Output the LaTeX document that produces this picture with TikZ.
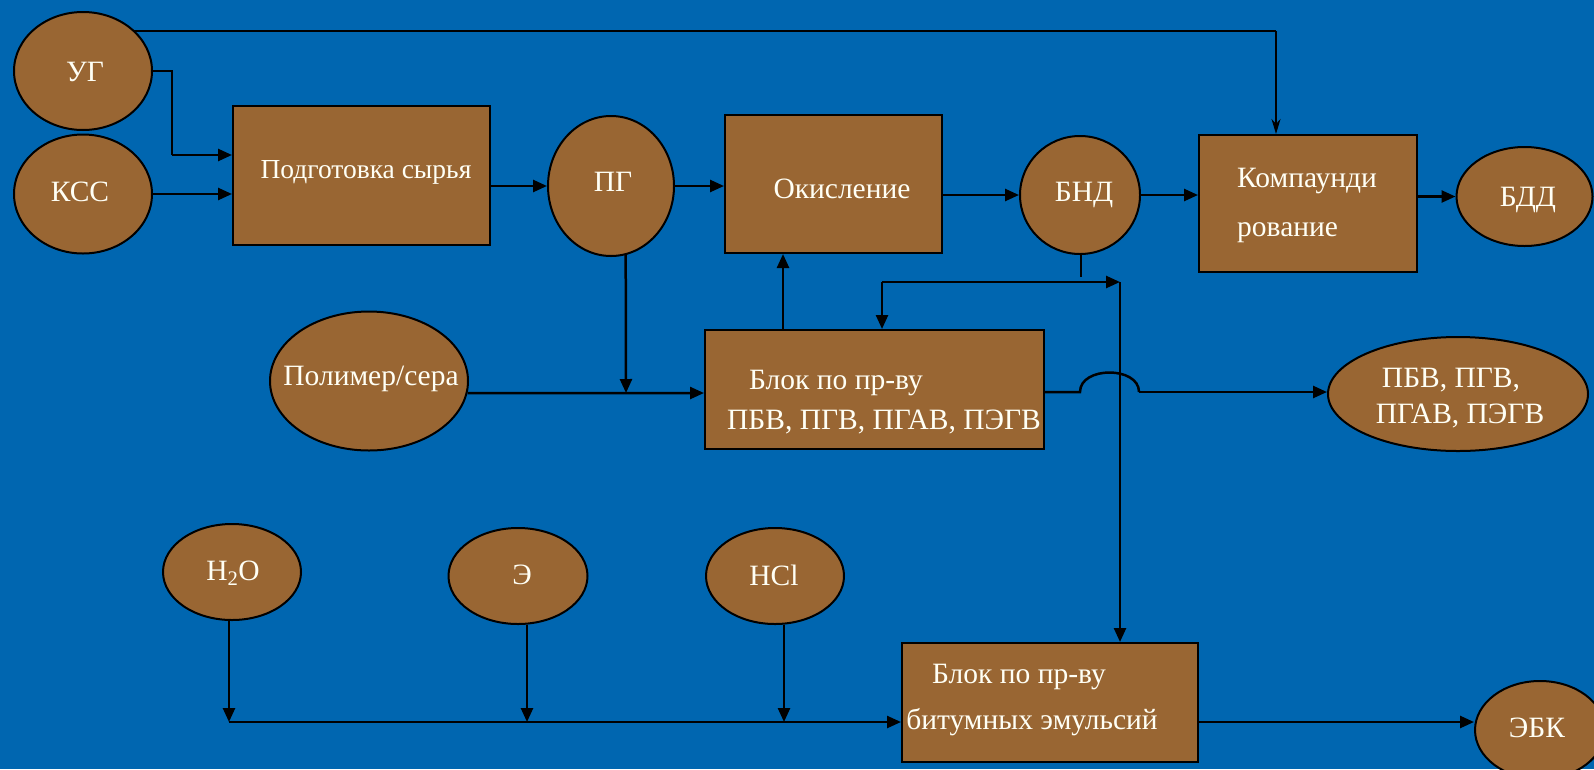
\documentclass[tikz,border=0pt]{standalone}
\usepackage{fontspec}
\setmainfont{Liberation Serif}
\usetikzlibrary{arrows.meta,shapes.geometric}
\definecolor{bg}{RGB}{0,102,176}
\definecolor{brn}{RGB}{153,102,51}
\definecolor{txc}{RGB}{255,255,245}
\begin{document}
\begin{tikzpicture}[x=1pt,y=-1pt,
  shp/.style={draw=black,line width=2pt,fill=brn},
  blk/.style={shp,rectangle,inner sep=0pt},
  ell/.style={shp,ellipse,inner sep=0pt},
  sz/.style 2 args={minimum width=#1,minimum height=#2},
  txt/.style={text=txc,font=\fontsize{29.5}{34}\selectfont,inner sep=0pt},
  con/.style={line width=2.5pt,-{Triangle[length=14pt,width=12pt]}},
  ln/.style={line width=2.5pt},
  thinln/.style={line width=1.6pt},
  thincon/.style={line width=1.6pt,-{Stealth[length=15pt,width=9pt]}}]
\fill[bg] (0,0) rectangle (1594,769);
\useasboundingbox (0,0) rectangle (1594,769);
\clip (0,0) rectangle (1594,769);

% shapes
\node[ell,sz={138pt}{118pt}] (ug) at (83,71) {};
\node[ell,sz={138pt}{119pt}] (kss) at (83,194) {};
\node[blk,sz={257pt}{139pt}] (prep) at (361.5,175.5) {};
\node[ell,sz={126pt}{140pt}] (pg) at (611,186) {};
\node[blk,sz={217pt}{138pt}] (oxid) at (833.5,184) {};
\node[ell,sz={120pt}{118pt}] (bnd) at (1080,195) {};
\node[blk,sz={218pt}{137pt}] (comp) at (1308,203.5) {};
\node[ell,sz={136pt}{99pt}] (bdd) at (1524.5,196.5) {};
\node[ell,sz={198pt}{139pt}] (poly) at (369,381) {};
\node[blk,sz={339pt}{119pt}] (pbv) at (874.5,389.5) {};
\node[ell,sz={260pt}{114pt}] (out) at (1458,394) {};
\node[ell,sz={138pt}{96pt}] (h2o) at (232,572) {};
\node[ell,sz={139pt}{96pt}] (e) at (518,576) {};
\node[ell,sz={138pt}{96pt}] (hcl) at (775,576) {};
\node[blk,sz={296pt}{119pt}] (emu) at (1050,702.5) {};
\node[ell,sz={130pt}{98pt}] (ebk) at (1540,730) {};

% texts
\node[txt] (tug) at (85,72) {УГ};
\node[txt] (tkss) at (80,192) {КСС};
\node[txt,font=\fontsize{27.5}{32}\selectfont] (tprep) at (366,172) {Подготовка сырья};
\node[txt] (tpg) at (613,182) {ПГ};
\node[txt] (toxid) at (842,189) {Окисление};
\node[txt] (tbnd) at (1084,195) {БНД};
\node[txt,anchor=west] (tcomp1) at (1237,181) {Компаунди};
\node[txt,anchor=west] (tcomp2) at (1237,233) {рование};
\node[txt] (tbdd) at (1528,200) {БДД};
\node[txt] (tpoly) at (371,379) {Полимер/сера};
\node[txt] (tpbv1) at (836,383) {Блок по пр-ву};
\node[txt] (tpbv2) at (884,422) {ПБВ, ПГВ, ПГАВ, ПЭГВ};
\node[txt] (tout1) at (1451,380) {ПБВ, ПГВ,};
\node[txt] (tout2) at (1460,416) {ПГАВ, ПЭГВ};
\node[txt] (th2o) at (233,573) {H\textsubscript{2}O};
\node[txt] (te) at (522,575) {Э};
\node[txt] (thcl) at (774,575) {HCl};
\node[txt] (temu1) at (1019,677) {Блок по пр-ву};
\node[txt] (temu2) at (1032,722) {битумных эмульсий};
\node[txt] (tebk) at (1537,728) {ЭБК};

% coordinates
\coordinate (tr) at (1276,31);
\coordinate (ugk) at (172,155);
\coordinate (pgj) at (626,393);
\coordinate (upx) at (783,300);
\coordinate (s1) at (1081,277);
\coordinate (ja) at (882,282);
\coordinate (jb) at (1120,282);
\coordinate (h1) at (1080,392);
\coordinate (h2) at (1139,392);
\coordinate (b1) at (229,722);
\coordinate (b2) at (527,722);
\coordinate (b3) at (784,722);

% connectors
\draw[thinln] (ug.39 |- tr) -- (tr);
\draw[thincon] (tr) -- (tr |- comp.north);
\draw[ln] (ug.east) -| (ugk);
\draw[con] (ugk) -- (ugk -| prep.west);
\draw[con] (kss.east) -- (kss.east -| prep.west);
\draw[con] (prep.east |- pg.west) -- (pg.west);
\draw[con] (pg.east) -- (pg.east -| oxid.west);
\draw[con] (oxid.east |- bnd.west) -- (bnd.west);
\draw[con] (bnd.east) -- (bnd.east -| comp.west);
\draw[con] (comp.east |- bdd.west) -- (bdd.west);
\draw[con] (pg.-78) -- (pgj);
\draw[con] (poly.-7) -- (pgj -| pbv.west);
\draw[con] (upx |- pbv.north) -- (upx |- oxid.south);
\draw[thinln] (s1 |- bnd.south) -- (s1);
\draw[con] (ja) -- (jb);
\draw[con] (ja) -- (ja |- pbv.north);
\draw[con] (jb) -- (jb |- emu.north);
\draw[ln] (pbv.east |- h1) -- (h1) .. controls (1080,366) and (1139,366) .. (h2);
\draw[con] (h2) -- (h2 -| out.west);
\draw[con] (b1 |- h2o.south) -- (b1);
\draw[con] (b2 |- e.south) -- (b2);
\draw[con] (b3 |- hcl.south) -- (b3);
\draw[con] (b1) -- (b1 -| emu.west);
\draw[con] (emu.east |- b1) -- (b1 -| ebk.west);
\end{tikzpicture}
\end{document}
